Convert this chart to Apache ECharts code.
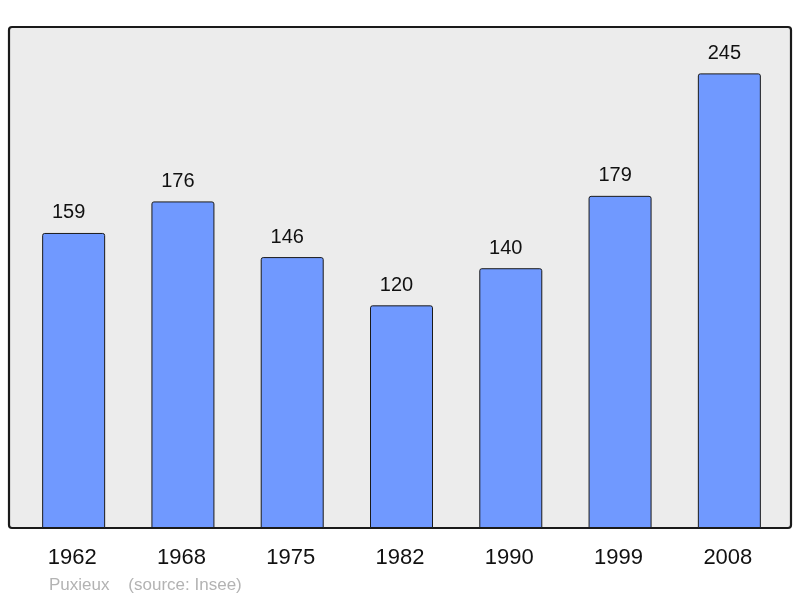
<!DOCTYPE html>
<html>
<head>
<meta charset="utf-8">
<script src="https://cdn.jsdelivr.net/npm/echarts@6/dist/echarts.min.js"></script>
<style>
  html, body { margin: 0; padding: 0; background: #fff; }
  #chart { width: 800px; height: 598px; }
</style>
</head>
<body>
<div id="chart"></div>
<script>
const years = ['1962', '1968', '1975', '1982', '1990', '1999', '2008'];
const population = [159, 176, 146, 120, 140, 179, 245];

const chart = echarts.init(document.getElementById('chart'));
chart.setOption({
  animation: false,
  textStyle: { fontFamily: 'Liberation Sans, Arial, sans-serif' },
  title: {
    text: 'Puxieux    (source: Insee)',
    left: 44,
    top: 572,
    textStyle: { color: '#b3b3b3', fontSize: 17, fontWeight: 'normal' }
  },
  graphic: [{
    type: 'rect',
    z: -1,
    shape: { x: 9, y: 27, width: 782, height: 501, r: 3 },
    style: { fill: '#ececec', stroke: '#1a1a1a', lineWidth: 2.2 }
  }],
  grid: { left: 19, right: 16, top: 27, bottom: 70 },
  xAxis: {
    type: 'category',
    data: years,
    axisLine: { show: false },
    axisTick: { show: false },
    axisLabel: { color: '#111', fontSize: 22, margin: 19, padding: [0, 3, 0, 0] }
  },
  yAxis: {
    type: 'value',
    min: 0,
    max: 270,
    show: false,
    splitLine: { show: false }
  },
  series: [{
    type: 'bar',
    data: population,
    barWidth: 63,
    itemStyle: {
      color: '#7099ff',
      borderColor: '#1a1a1a',
      borderWidth: 1,
      borderRadius: [2, 2, 0, 0]
    },
    label: {
      show: true,
      position: 'top',
      distance: 10,
      offset: [-5, 0],
      color: '#111',
      fontSize: 20
    }
  }]
});
</script>
</body>
</html>
